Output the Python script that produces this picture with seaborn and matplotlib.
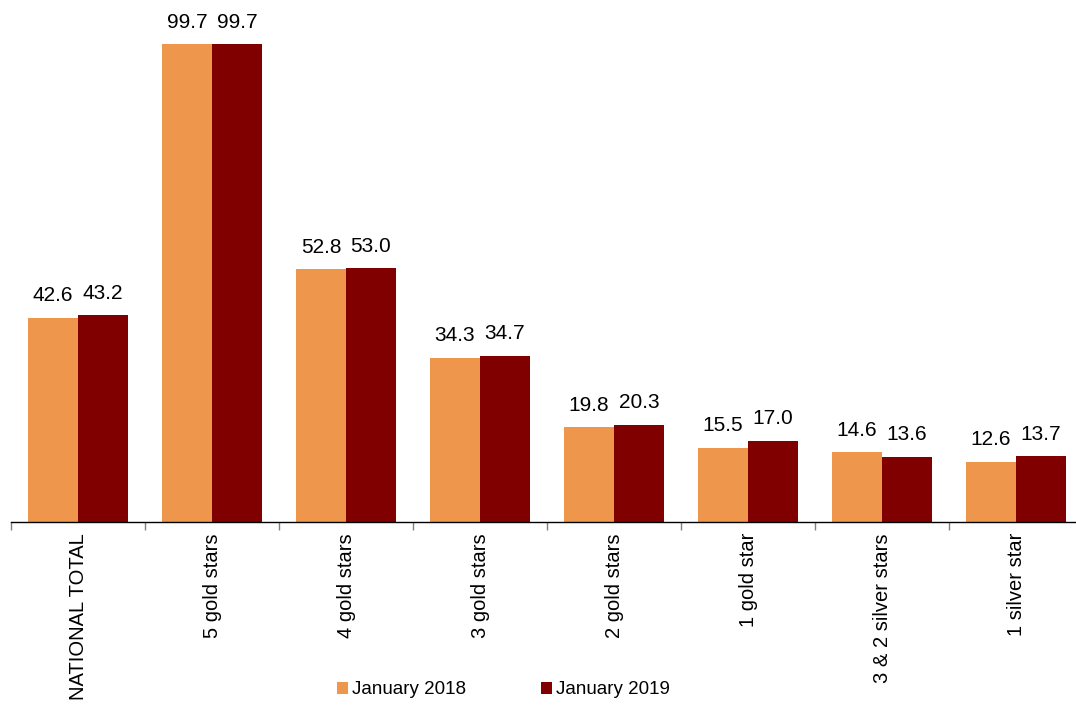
import pandas as pd
import matplotlib.pyplot as plt
import seaborn as sns

categories = ['NATIONAL TOTAL', '5 gold stars', '4 gold stars', '3 gold stars',
              '2 gold stars', '1 gold star', '3 & 2 silver stars', '1 silver star']
jan_2018 = [42.6, 99.7, 52.8, 34.3, 19.8, 15.5, 14.6, 12.6]
jan_2019 = [43.2, 99.7, 53.0, 34.7, 20.3, 17.0, 13.6, 13.7]
series = ['January 2018', 'January 2019']

df = pd.DataFrame({
    'category': categories * 2,
    'value': jan_2018 + jan_2019,
    'series': [series[0]] * len(categories) + [series[1]] * len(categories),
})

sns.set_style('white')
plt.rcParams['font.family'] = ['Liberation Sans', 'DejaVu Sans']
plt.rcParams['text.color'] = 'black'
plt.rcParams['xtick.color'] = 'black'

fig = plt.figure(figsize=(10.76, 7.05), dpi=100)
ax = fig.add_axes([11 / 1076, 183 / 705, 1072 / 1076, 503 / 705])

sns.barplot(data=df, x='category', y='value', hue='series', order=categories,
            hue_order=series, palette=['#EE964B', '#800000'], width=0.746,
            gap=0, saturation=1, linewidth=0, ax=ax, legend=True)

for cont in ax.containers:
    ax.bar_label(cont, fmt='%.1f', padding=9, fontsize=15, color='black')

ax.set_xlim(-0.5, len(categories) - 0.5)
ax.set_ylim(0, 105)
ax.set_xlabel('')
ax.set_ylabel('')
ax.set_yticks([])
for s in ['top', 'right', 'left']:
    ax.spines[s].set_visible(False)
ax.spines['bottom'].set_color('black')
ax.spines['bottom'].set_linewidth(1)

ax.set_xticks(range(len(categories)))
ax.set_xticklabels(categories, rotation=90, fontsize=14.5, color='black')
ax.tick_params(axis='x', which='major', length=0, pad=8)
ax.set_xticks([i - 0.5 for i in range(len(categories) + 1)], minor=True)
ax.tick_params(axis='x', which='minor', length=6, width=1, color='gray', direction='out', bottom=True)

ax.legend(loc='center', bbox_to_anchor=(492 / 1072, -168 / 503), ncol=2,
          frameon=False, fontsize=13.5, handlelength=0.6, handleheight=0.6,
          handletextpad=0.2, columnspacing=4.0)

fig.savefig('out.png', dpi=100)
